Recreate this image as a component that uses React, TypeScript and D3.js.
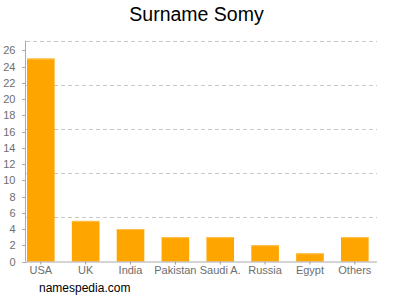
import React from "react";
import * as d3 from "d3";

const categories = ["USA", "UK", "India", "Pakistan", "Saudi A.", "Russia", "Egypt", "Others"];
const values = [25, 5, 4, 3, 3, 2, 1, 3];
const yTicks = [0, 2, 4, 6, 8, 10, 12, 14, 16, 18, 20, 22, 24, 26];
const yMax = 27.2;
const gridCount = 5;

export default function App() {
  const W = 400, H = 300;
  const left = 26, right = 377, top = 40.7, bottom = 261.5;
  const step = 44.86;
  const x = d3.scaleBand<string>()
    .domain(categories)
    .range([27, 27 + step * categories.length])
    .paddingInner(1 - 27.6 / step)
    .paddingOuter((1 - 27.6 / step) / 2)
    .align(0);
  const y = d3.scaleLinear().domain([0, yMax]).range([bottom, top]);
  const grid = d3.range(1, gridCount + 1).map((i) => (yMax * i) / gridCount);
  const font = "Arial, 'Liberation Sans', sans-serif";

  return (
    <svg width={W} height={H} style={{ position: "absolute", left: 0, top: 0 }} fontFamily={font}>
      <rect width={W} height={H} fill="#fff" />
      <text x={196.5} y={21} textAnchor="middle" fontSize={19.5} fill="#000">Surname Somy</text>
      {grid.map((g, i) => (
        <line key={i} x1={left} x2={right} y1={Math.round(y(g)) + 0.5} y2={Math.round(y(g)) + 0.5}
          stroke="#c8c8c8" strokeDasharray="4,3" />
      ))}
      {categories.map((c, i) => {
        const bx = x(c)!;
        const by = y(values[i]);
        return (
          <g key={c}>
            <rect x={bx} y={by} width={x.bandwidth()} height={bottom - by} fill="#FFA500" />
            <rect x={bx} y={by} width={x.bandwidth()} height={1} fill="#FFC04D" />
            <line x1={bx + x.bandwidth() / 2} x2={bx + x.bandwidth() / 2} y1={bottom} y2={bottom + 3} stroke="#999" />
            <text x={bx + x.bandwidth() / 2} y={bottom + 12.5} textAnchor="middle" fontSize={11} fill="#6e6e6e">{c}</text>
          </g>
        );
      })}
      <line x1={left - 0.5} x2={left - 0.5} y1={top} y2={bottom} stroke="#aaa" />
      <line x1={left - 0.5} x2={right} y1={bottom + 0.5} y2={bottom + 0.5} stroke="#aaa" />
      {yTicks.map((t) => (
        <g key={t}>
          <line x1={left - 4} x2={left} y1={Math.round(y(t)) + 0.5} y2={Math.round(y(t)) + 0.5} stroke="#aaa" />
          <text x={15.5} y={y(t) + 4} textAnchor="end" fontSize={11} fill="#6e6e6e">{t}</text>
        </g>
      ))}
      <text x={39} y={292} fontSize={12} fill="#000">namespedia.com</text>
    </svg>
  );
}
